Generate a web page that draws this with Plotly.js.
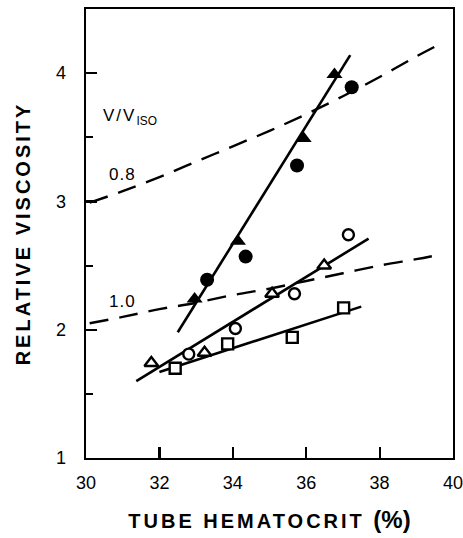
<!DOCTYPE html>
<html>
<head>
<meta charset="utf-8">
<script src="https://cdn.plot.ly/plotly-3.0.1.min.js"></script>
<style>html,body{margin:0;padding:0;background:#fff;}</style>
</head>
<body>
<div id="chart" style="width:463px;height:538px;"></div>
<script>
// Filled triangles
const filledTriX = [32.96, 34.14, 35.93, 36.77];
const filledTriY = [2.24, 2.69, 3.49, 3.99];
// Filled circles
const filledCirX = [33.30, 34.35, 35.75, 37.24];
const filledCirY = [2.39, 2.57, 3.28, 3.89];
// Open circles
const openCirX = [32.80, 34.07, 35.68, 37.15];
const openCirY = [1.81, 2.01, 2.28, 2.74];
// Open triangles
const openTriX = [31.78, 33.23, 35.07, 36.49];
const openTriY = [1.74, 1.82, 2.28, 2.50];
// Open squares
const squareX = [32.43, 33.86, 35.62, 37.02];
const squareY = [1.70, 1.89, 1.94, 2.17];
// Fitted solid lines (end points)
const fitSteepX = [32.50, 37.20];
const fitSteepY = [1.98, 4.14];
const fitMidX = [31.37, 37.70];
const fitMidY = [1.60, 2.71];
const fitLowX = [32.00, 37.50];
const fitLowY = [1.67, 2.18];
// Dashed iso-velocity curves
const curve08X = [30.1, 31, 32, 33, 34, 35, 36, 37, 38, 39, 39.6];
const curve08Y = [2.99, 3.08, 3.19, 3.31, 3.43, 3.55, 3.68, 3.82, 3.97, 4.13, 4.22];
const curve10X = [30.1, 31, 32, 33, 34, 35, 36, 37, 38, 39, 39.55];
const curve10Y = [2.05, 2.10, 2.16, 2.21, 2.27, 2.32, 2.38, 2.44, 2.50, 2.55, 2.58];
// Labels
const curveLabels = ['0.8', '1.0'];
const xTitle = 'TUBE HEMATOCRIT ';
const xTitleUnit = '(%)';
const yTitle = 'RELATIVE VISCOSITY';

const FONT = 'Liberation Sans, Arial, Helvetica, sans-serif';
const solid = {color: '#000', width: 2.6};
const dash = {color: '#000', width: 2.4, dash: '19px,11px'};

const traces = [
  {x: curve08X, y: curve08Y, mode: 'lines', line: Object.assign({shape: 'spline'}, dash), hoverinfo: 'skip'},
  {x: curve10X, y: curve10Y, mode: 'lines', line: Object.assign({shape: 'spline'}, dash), hoverinfo: 'skip'},
  {x: fitSteepX, y: fitSteepY, mode: 'lines', line: solid},
  {x: fitMidX, y: fitMidY, mode: 'lines', line: solid},
  {x: fitLowX, y: fitLowY, mode: 'lines', line: solid},
  {x: filledTriX, y: filledTriY, mode: 'markers', marker: {symbol: 'triangle-up', size: 14, color: '#000'}},
  {x: filledCirX, y: filledCirY, mode: 'markers', marker: {symbol: 'circle', size: 14, color: '#000'}},
  {x: openCirX, y: openCirY, mode: 'markers', marker: {symbol: 'circle', size: 11, color: '#fff', line: {color: '#000', width: 2.4}}},
  {x: openTriX, y: openTriY, mode: 'markers', marker: {symbol: 'triangle-up', size: 12, color: '#fff', line: {color: '#000', width: 2.4}}},
  {x: squareX, y: squareY, mode: 'markers', marker: {symbol: 'square', size: 11, color: '#fff', line: {color: '#000', width: 2.4}}}
];

const layout = {
  width: 463, height: 538,
  margin: {l: 86, r: 10, t: 9, b: 80},
  paper_bgcolor: '#fff', plot_bgcolor: '#fff',
  showlegend: false,
  font: {family: FONT, color: '#000'},
  xaxis: {
    range: [30, 40], tick0: 30, dtick: 2,
    ticks: 'inside', ticklen: 11, tickwidth: 2.2, tickcolor: '#000',
    showline: true, linewidth: 2.4, linecolor: '#000', mirror: true,
    showgrid: false, zeroline: false,
    tickfont: {size: 18, family: FONT},
    ticklabelstandoff: 7,
    ticklabeloverflow: 'allow',
    title: {
      text: '<span style="letter-spacing:3px">' + xTitle + '</span><span style="font-size:24px">' + xTitleUnit + '</span>',
      font: {size: 20, family: FONT, weight: 'bold'},
      standoff: 22
    }
  },
  yaxis: {
    range: [1, 4.5], tick0: 1, dtick: 1,
    ticks: 'inside', ticklen: 11, tickwidth: 2.2, tickcolor: '#000',
    minor: {dtick: 0.5, ticks: 'inside', ticklen: 7, tickwidth: 2, tickcolor: '#000'},
    showline: true, linewidth: 2.4, linecolor: '#000', mirror: true,
    showgrid: false, zeroline: false,
    tickfont: {size: 18, family: FONT},
    ticklabelstandoff: 14,
    ticklabeloverflow: 'allow',
    title: {
      text: '<span style="letter-spacing:3px">' + yTitle + '</span>',
      font: {size: 20, family: FONT, weight: 'bold'},
      standoff: 20
    }
  },
  annotations: [
    {x: 31.2, y: 3.66, xref: 'x', yref: 'y', text: '<span style="letter-spacing:2px">V/V</span><sub>ISO</sub>', showarrow: false, font: {size: 17, family: FONT}},
    {x: 30.99, y: 3.21, xref: 'x', yref: 'y', text: '<span style="letter-spacing:1px">' + curveLabels[0] + '</span>', showarrow: false, font: {size: 17, family: FONT}},
    {x: 30.99, y: 2.22, xref: 'x', yref: 'y', text: '<span style="letter-spacing:1px">' + curveLabels[1] + '</span>', showarrow: false, font: {size: 17, family: FONT}}
  ]
};

Plotly.newPlot('chart', traces, layout, {staticPlot: true, displayModeBar: false});
</script>
</body>
</html>
